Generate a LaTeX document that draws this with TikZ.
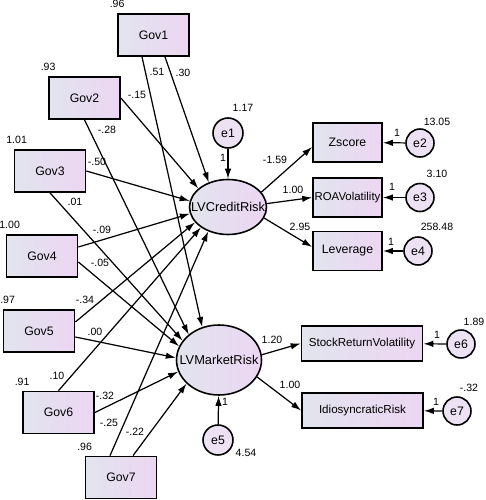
\documentclass[tikz,border=0pt]{standalone}
\usepackage{fontspec}
\setmainfont{Liberation Sans}
\usetikzlibrary{arrows.meta, shapes.geometric}
\definecolor{boxleft}{RGB}{226,228,238}
\definecolor{boxright}{RGB}{236,214,242}
\definecolor{errfill}{RGB}{237,226,243}

\begin{document}
\begin{tikzpicture}[x=0.02cm, y=-0.02cm,
        obs/.style={rectangle, draw, line width=1pt, left color=boxleft, right color=boxright, inner sep=0pt, minimum width=14.2mm, minimum height=8.4mm, font=\fontsize{7}{8}\selectfont},
        ind/.style={obs, minimum width=13.8mm, minimum height=7.8mm},
        wide/.style={obs, minimum width=24.2mm, minimum height=7mm, font=\fontsize{6.6}{8}\selectfont},
        latent/.style={ellipse, draw, line width=0.9pt, left color=boxleft, right color=boxright, inner sep=0pt, font=\fontsize{7.3}{8}\selectfont},
        err/.style={circle, draw, line width=0.9pt, fill=errfill, inner sep=0pt, minimum size=5.6mm, font=\fontsize{7}{8}\selectfont},
        num/.style={inner sep=0pt, font=\fontsize{6}{7}\selectfont},
        arrow/.style={-{Latex[length=2mm, width=1.3mm]}, line width=0.7pt}
    ]
        \useasboundingbox (0,0) rectangle (486,500);

        % Gov variables
        \node[obs] (gov1) at (153.5,35) {Gov1};
        \node[obs] (gov2) at (84.5,98) {Gov2};
        \node[obs] (gov3) at (50,171) {Gov3};
        \node[obs] (gov4) at (42,256) {Gov4};
        \node[obs] (gov5) at (39,331) {Gov5};
        \node[obs] (gov6) at (58.5,412.5) {Gov6};
        \node[obs] (gov7) at (121,477.5) {Gov7};

        \node[num, anchor=south] at ([yshift=1mm]gov1.north west) {.96};
        \node[num, anchor=south] at ([yshift=1mm]gov2.north west) {.93};
        \node[num, anchor=south] at ([xshift=0.6mm, yshift=1mm]gov3.north west) {1.01};
        \node[num, anchor=south] at ([xshift=0.8mm, yshift=1mm]gov4.north west) {1.00};
        \node[num, anchor=south] at ([xshift=1mm, yshift=1mm]gov5.north west) {.97};
        \node[num, anchor=south] at ([yshift=1mm]gov6.north west) {.91};
        \node[num, anchor=south] at ([yshift=1mm]gov7.north west) {.96};

        % Latent variables
        \node[latent, minimum width=15.4mm, minimum height=11mm] (cr) at (228,207) {\makebox[0pt]{LVCreditRisk}};
        \node[latent, minimum width=17mm, minimum height=14mm] (mr) at (219,360) {\makebox[0pt]{LVMarketRisk}};

        % Indicators
        \node[ind] (zs) at (347.5,142.5) {Zscore};
        \node[ind, font=\fontsize{6.5}{8}\selectfont] (roa) at (347.5,197.5) {ROAVolatility};
        \node[ind] (lev) at (347.5,251) {Leverage};
        \node[wide] (srv) at (362,343.5) {StockReturnVolatility};
        \node[wide] (idio) at (362.5,410.5) {IdiosyncraticRisk};

        % Errors
        \node[err, minimum size=6mm] (e1) at (228,133) {e1};
        \node[err] (e2) at (420,143) {e2};
        \node[err] (e3) at (420,197.5) {e3};
        \node[err] (e4) at (418,251) {e4};
        \node[err, minimum size=6mm] (e5) at (218,440) {e5};
        \node[err] (e6) at (461,344) {e6};
        \node[err] (e7) at (457,411) {e7};

        \node[num] at (243,108) {1.17};
        \node[num] at (437,122) {13.05};
        \node[num] at (437,174) {3.10};
        \node[num] at (437,227) {258.48};
        \node[num] at (246,453) {4.54};
        \node[num] at (474,322) {1.89};
        \node[num] at (469,388) {-.32};

        % Gov paths
        \draw[arrow] ([xshift=-2.3mm]gov1.south) -- (mr.117);
        \draw[arrow] ([xshift=2.3mm]gov1.south) -- (cr.128);
        \draw[arrow] (gov2.east) -- (cr.148);
        \draw[arrow] (gov2.south) -- (mr.140);
        \draw[arrow] (gov3.east) -- (cr.171);
        \draw[arrow] (gov3.south) -- (mr.152);
        \draw[arrow] ([yshift=1.8mm]gov4.east) -- (cr.190);
        \draw[arrow] ([yshift=-1.2mm]gov4.east) -- (mr.161);
        \draw[arrow] ([yshift=1.8mm]gov5.east) -- (cr.205);
        \draw[arrow] ([yshift=-1.2mm]gov5.east) -- (mr.177);
        \draw[arrow] (gov6.north) -- (cr.217);
        \draw[arrow] (gov6.east) -- (mr.196);
        \draw[arrow] ([xshift=-2.2mm]gov7.north) -- (cr.231);
        \draw[arrow] ([xshift=2.4mm]gov7.north) -- (mr.216);

        \node[num] at (157,72) {.51};
        \node[num] at (183,73) {.30};
        \node[num] at (137,95) {-.15};
        \node[num] at (107,130) {-.28};
        \node[num] at (97,162) {-.50};
        \node[num] at (75,202) {.01};
        \node[num] at (102,230) {-.09};
        \node[num] at (100,263) {-.05};
        \node[num] at (85,300) {-.34};
        \node[num] at (95,332) {.00};
        \node[num] at (57,376) {.10};
        \node[num] at (105,396) {-.32};
        \node[num] at (109,423) {-.25};
        \node[num] at (135,432) {-.22};

        % Loadings
        \draw[arrow] (cr.24) -- ([yshift=-0.9mm]zs.west);
        \draw[arrow] (cr.5) -- (roa.west);
        \draw[arrow] (cr.343) -- ([yshift=0.8mm]lev.west);
        \draw[arrow] (mr.7) -- (srv.west);
        \draw[arrow] (mr.336) -- (idio.west);

        \node[num] at (275,160) {-1.59};
        \node[num] at (293,190) {1.00};
        \node[num] at (300,227) {2.95};
        \node[num] at (272,340) {1.20};
        \node[num] at (290,385) {1.00};

        % Error paths
        \draw[arrow] (e1) -- (cr);
        \draw[arrow] (e5) -- (mr);
        \draw[arrow] (e2) -- (zs);
        \draw[arrow] (e3) -- (roa);
        \draw[arrow] (e4) -- (lev);
        \draw[arrow] (e6) -- (srv);
        \draw[arrow] (e7) -- (idio);

        \node[num] at (223,158) {1};
        \node[num] at (225,402) {1};
        \node[num] at (397,133) {1};
        \node[num] at (392,187) {1};
        \node[num] at (391,242) {1};
        \node[num] at (437,335) {1};
        \node[num] at (436,402) {1};
    \end{tikzpicture}
\end{document}
